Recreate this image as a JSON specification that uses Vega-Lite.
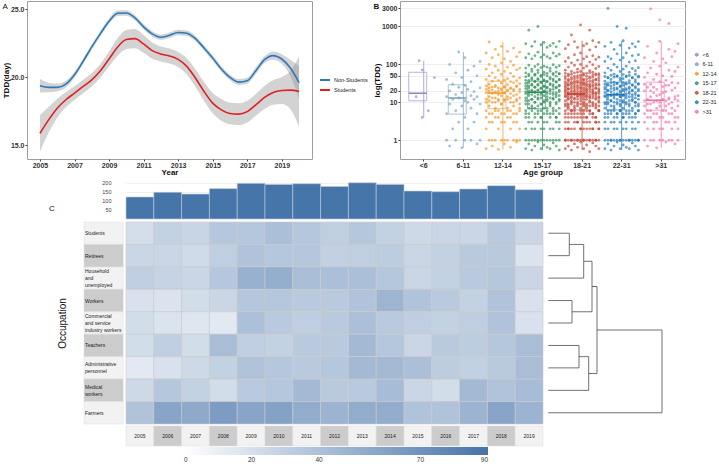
{
  "$schema": "https://vega.github.io/schema/vega-lite/v6.json",
  "padding": {"left": 1, "top": 0, "right": 0, "bottom": 0},
  "config": {
    "font": "Liberation Sans",
    "view": {"stroke": null},
    "axis": {"labelColor": "#333", "titleColor": "#111", "tickColor": "#444", "domain": false, "grid": false},
    "title": {"fontWeight": "normal", "color": "#111"},
    "legend": {"labelColor": "#222"}
  },
  "datasets": {
    "tdd": [
      {"g":"Non-Students","x":2005,"y":19.36,"lo":18.86,"hi":19.86},
      {"g":"Non-Students","x":2005.5,"y":19.24,"lo":18.89,"hi":19.59},
      {"g":"Non-Students","x":2006,"y":19.24,"lo":18.96,"hi":19.52},
      {"g":"Non-Students","x":2006.5,"y":19.48,"lo":19.23,"hi":19.73},
      {"g":"Non-Students","x":2007,"y":20.17,"lo":19.95,"hi":20.39},
      {"g":"Non-Students","x":2007.5,"y":21.16,"lo":20.96,"hi":21.36},
      {"g":"Non-Students","x":2008,"y":22.22,"lo":22.02,"hi":22.42},
      {"g":"Non-Students","x":2008.5,"y":23.2,"lo":23.0,"hi":23.4},
      {"g":"Non-Students","x":2009,"y":24.11,"lo":23.91,"hi":24.31},
      {"g":"Non-Students","x":2009.5,"y":24.7,"lo":24.5,"hi":24.9},
      {"g":"Non-Students","x":2010,"y":24.72,"lo":24.52,"hi":24.92},
      {"g":"Non-Students","x":2010.5,"y":24.36,"lo":24.16,"hi":24.56},
      {"g":"Non-Students","x":2011,"y":23.7,"lo":23.5,"hi":23.9},
      {"g":"Non-Students","x":2011.5,"y":23.18,"lo":22.98,"hi":23.38},
      {"g":"Non-Students","x":2012,"y":22.93,"lo":22.73,"hi":23.13},
      {"g":"Non-Students","x":2012.5,"y":23.08,"lo":22.88,"hi":23.28},
      {"g":"Non-Students","x":2013,"y":23.28,"lo":23.08,"hi":23.48},
      {"g":"Non-Students","x":2013.5,"y":23.23,"lo":23.03,"hi":23.43},
      {"g":"Non-Students","x":2014,"y":22.83,"lo":22.63,"hi":23.03},
      {"g":"Non-Students","x":2014.5,"y":22.14,"lo":21.94,"hi":22.34},
      {"g":"Non-Students","x":2015,"y":21.4,"lo":21.2,"hi":21.6},
      {"g":"Non-Students","x":2015.5,"y":20.6,"lo":20.4,"hi":20.8},
      {"g":"Non-Students","x":2016,"y":19.98,"lo":19.78,"hi":20.18},
      {"g":"Non-Students","x":2016.5,"y":19.63,"lo":19.41,"hi":19.85},
      {"g":"Non-Students","x":2017,"y":19.73,"lo":19.51,"hi":19.95},
      {"g":"Non-Students","x":2017.5,"y":20.47,"lo":20.22,"hi":20.72},
      {"g":"Non-Students","x":2018,"y":21.28,"lo":21.03,"hi":21.53},
      {"g":"Non-Students","x":2018.5,"y":21.58,"lo":21.28,"hi":21.88},
      {"g":"Non-Students","x":2019,"y":21.33,"lo":20.98,"hi":21.68},
      {"g":"Non-Students","x":2019.5,"y":20.67,"lo":20.07,"hi":21.27},
      {"g":"Non-Students","x":2020,"y":19.6,"lo":18.4,"hi":20.8},
      {"g":"Students","x":2005,"y":15.86,"lo":14.51,"hi":17.21},
      {"g":"Students","x":2005.5,"y":16.85,"lo":15.9,"hi":17.8},
      {"g":"Students","x":2006,"y":17.71,"lo":17.01,"hi":18.41},
      {"g":"Students","x":2006.5,"y":18.33,"lo":17.78,"hi":18.88},
      {"g":"Students","x":2007,"y":18.82,"lo":18.32,"hi":19.32},
      {"g":"Students","x":2007.5,"y":19.31,"lo":18.81,"hi":19.81},
      {"g":"Students","x":2008,"y":19.8,"lo":19.3,"hi":20.3},
      {"g":"Students","x":2008.5,"y":20.47,"lo":19.97,"hi":20.97},
      {"g":"Students","x":2009,"y":21.33,"lo":20.78,"hi":21.88},
      {"g":"Students","x":2009.5,"y":22.22,"lo":21.57,"hi":22.87},
      {"g":"Students","x":2010,"y":22.76,"lo":22.06,"hi":23.46},
      {"g":"Students","x":2010.5,"y":22.83,"lo":22.13,"hi":23.53},
      {"g":"Students","x":2011,"y":22.44,"lo":21.79,"hi":23.09},
      {"g":"Students","x":2011.5,"y":21.95,"lo":21.35,"hi":22.55},
      {"g":"Students","x":2012,"y":21.7,"lo":21.15,"hi":22.25},
      {"g":"Students","x":2012.5,"y":21.55,"lo":21.0,"hi":22.1},
      {"g":"Students","x":2013,"y":21.3,"lo":20.75,"hi":21.85},
      {"g":"Students","x":2013.5,"y":20.79,"lo":20.19,"hi":21.39},
      {"g":"Students","x":2014,"y":19.93,"lo":19.28,"hi":20.58},
      {"g":"Students","x":2014.5,"y":18.94,"lo":18.24,"hi":19.64},
      {"g":"Students","x":2015,"y":18.08,"lo":17.33,"hi":18.83},
      {"g":"Students","x":2015.5,"y":17.59,"lo":16.79,"hi":18.39},
      {"g":"Students","x":2016,"y":17.32,"lo":16.52,"hi":18.12},
      {"g":"Students","x":2016.5,"y":17.27,"lo":16.47,"hi":18.07},
      {"g":"Students","x":2017,"y":17.46,"lo":16.66,"hi":18.26},
      {"g":"Students","x":2017.5,"y":17.96,"lo":17.16,"hi":18.76},
      {"g":"Students","x":2018,"y":18.5,"lo":17.65,"hi":19.35},
      {"g":"Students","x":2018.5,"y":18.87,"lo":17.97,"hi":19.77},
      {"g":"Students","x":2019,"y":19.01,"lo":18.01,"hi":20.01},
      {"g":"Students","x":2019.5,"y":19.04,"lo":17.64,"hi":20.44},
      {"g":"Students","x":2020,"y":18.94,"lo":16.34,"hi":21.54}
    ],
    "pts": [
      {"g":"<6","k":3,"v":[14]},{"g":"<6","k":4,"v":[125]},{"g":"<6","k":5,"v":[72,4]},{"g":"<6","k":7,"v":[6]},{"g":"<6","k":9,"v":[45]},
      {"g":"6-11","k":0,"v":[1,5,14,40]},{"g":"6-11","k":1,"v":[0.7,9,20,100]},{"g":"6-11","k":2,"v":[2,12,30]},{"g":"6-11","k":3,"v":[1,6,16,60]},
      {"g":"6-11","k":4,"v":[3,13,25,212]},{"g":"6-11","k":5,"v":[0.63,8,18,45]},{"g":"6-11","k":6,"v":[1,4,11,28,150]},{"g":"6-11","k":7,"v":[2,10,22,70]},
      {"g":"6-11","k":8,"v":[1,7,15,35]},{"g":"6-11","k":9,"v":[3,12,19,90]},{"g":"6-11","k":10,"v":[0.8,5,14,50]},{"g":"6-11","k":11,"v":[1,9,24,120]},
      {"g":"12-14","k":0,"v":[0.6,2,6,12,18,27,40,75,200,4,10,22]},{"g":"12-14","k":1,"v":[1,3,8,14,20,30,50,100,389,5,11,24]},
      {"g":"12-14","k":2,"v":[0.7,1,5,10,17,25,36,60,150,3,13,21]},{"g":"12-14","k":3,"v":[1,4,7,13,19,28,45,90,250,6,10,26]},
      {"g":"12-14","k":4,"v":[0.57,2,6,11,16,24,38,70,180,4,12,20]},{"g":"12-14","k":5,"v":[1,3,9,15,21,32,55,110,300,5,9,23]},
      {"g":"12-14","k":6,"v":[0.8,1,5,12,18,26,39,65,140,3,11,25]},{"g":"12-14","k":7,"v":[1,4,7,14,20,29,42,85,220,6,12,21]},
      {"g":"12-14","k":8,"v":[0.65,2,6,10,17,23,35,58,120,4,13,24]},{"g":"12-14","k":9,"v":[1,3,8,15,22,33,48,95,270,5,10,20]},
      {"g":"12-14","k":10,"v":[0.9,1,5,11,16,27,37,72,160,3,12,26]},{"g":"12-14","k":11,"v":[1,2,7,13,19,31,44,80,210,6,9,22]},
      {"g":"15-17","k":0,"v":[0.6,1,2,4,6,9,13,17,23,32,47,80,150,350,5,11,19,27,38,60]},
      {"g":"15-17","k":1,"v":[0.8,1,3,5,7,11,15,20,27,38,55,95,190,800,4,9,17,24,33,50]},
      {"g":"15-17","k":2,"v":[0.55,1,2,3,6,8,12,16,21,30,44,75,140,300,7,12,20,28,40,65]},
      {"g":"15-17","k":3,"v":[0.7,1,2,4,7,10,14,19,25,36,52,88,170,400,5,10,18,25,35,55]},
      {"g":"15-17","k":4,"v":[0.9,1,3,5,8,12,16,21,28,40,60,100,210,1000,6,13,21,30,42,70]},
      {"g":"15-17","k":5,"v":[0.6,1,2,4,6,9,13,18,24,33,48,82,155,330,4,9,16,23,34,52]},
      {"g":"15-17","k":6,"v":[0.75,1,2,3,7,10,15,20,26,37,54,90,180,380,5,11,19,27,39,62]},
      {"g":"15-17","k":7,"v":[0.65,1,3,5,6,11,14,19,25,35,50,85,160,280,7,12,17,24,36,58]},
      {"g":"15-17","k":8,"v":[0.6,1,2,4,8,9,13,17,22,31,45,78,145,310,5,10,20,29,41,66]},
      {"g":"15-17","k":9,"v":[0.85,1,2,5,7,12,16,22,29,41,58,98,200,360,6,13,18,26,37,54]},
      {"g":"15-17","k":10,"v":[0.7,1,3,4,6,10,14,18,24,34,49,84,165,290,4,9,16,25,35,63]},
      {"g":"15-17","k":11,"v":[0.55,1,2,3,7,11,15,21,27,39,56,92,185,405,5,12,19,28,40,57]},
      {"g":"18-21","k":0,"v":[0.6,1,1,2,3,4,6,8,11,14,17,21,27,35,48,70,120,260,5,9,15,19,24,31,42,58]},
      {"g":"18-21","k":1,"v":[0.7,1,2,2,3,5,7,9,12,15,18,23,30,40,55,85,150,330,4,8,13,17,22,28,37,50]},
      {"g":"18-21","k":2,"v":[0.55,1,1,2,4,5,6,9,11,13,16,20,26,33,45,65,110,600,6,10,14,18,23,30,40,55]},
      {"g":"18-21","k":3,"v":[0.8,1,2,3,4,6,7,10,13,16,19,24,31,42,60,95,180,400,5,8,12,17,21,27,36,48]},
      {"g":"18-21","k":4,"v":[0.65,1,1,3,3,5,8,10,12,15,17,22,28,37,50,75,130,280,4,9,14,19,25,33,44,62]},
      {"g":"18-21","k":5,"v":[0.9,1,2,2,4,5,7,9,13,16,20,25,33,45,65,100,200,1100,6,11,15,18,23,29,39,52]},
      {"g":"18-21","k":6,"v":[0.6,1,1,2,3,4,6,8,10,14,18,21,29,38,52,80,140,310,5,9,12,16,24,32,41,57]},
      {"g":"18-21","k":7,"v":[0.75,1,2,3,4,6,7,9,12,15,19,23,30,41,58,90,160,350,4,8,14,17,21,27,35,49]},
      {"g":"18-21","k":8,"v":[0.5,1,1,2,3,5,6,8,11,14,16,22,27,36,47,68,115,240,800,6,10,13,19,25,30,43,60]},
      {"g":"18-21","k":9,"v":[0.85,1,2,2,4,5,8,10,13,17,20,26,34,46,62,98,170,420,5,9,15,18,22,29,38,53]},
      {"g":"18-21","k":10,"v":[0.7,1,1,3,3,4,7,9,12,15,18,23,28,39,53,78,135,290,4,8,13,17,24,31,40,56]},
      {"g":"18-21","k":11,"v":[0.6,1,2,2,3,6,6,8,11,13,17,21,31,43,57,88,155,380,6,10,14,19,23,28,37,51]},
      {"g":"22-31","k":0,"v":[0.6,1,2,3,5,7,10,14,18,25,36,60,120,300,4,9,15,22,30,48]},
      {"g":"22-31","k":1,"v":[0.8,1,2,4,6,9,12,16,21,30,45,80,160,3000,5,10,14,20,28,44]},
      {"g":"22-31","k":2,"v":[0.55,1,1,3,5,8,11,15,19,27,40,70,140,380,6,11,16,23,33,52]},
      {"g":"22-31","k":3,"v":[0.7,1,2,3,6,7,10,13,17,24,34,55,100,250,4,8,15,21,29,46]},
      {"g":"22-31","k":4,"v":[0.9,1,2,4,5,9,12,16,22,32,48,85,190,1000,5,10,17,24,31,50]},
      {"g":"22-31","k":5,"v":[0.6,1,1,3,6,8,11,14,18,26,38,65,130,320,6,9,14,20,27,43]},
      {"g":"22-31","k":6,"v":[0.75,1,2,4,5,7,10,15,20,28,42,75,150,420,4,11,16,22,33,54]},
      {"g":"22-31","k":7,"v":[0.65,1,2,3,6,9,13,17,23,33,50,90,200,900,5,10,15,21,30,47]},
      {"g":"22-31","k":8,"v":[0.6,1,1,4,5,8,11,14,19,25,37,62,115,270,6,9,17,23,32,51]},
      {"g":"22-31","k":9,"v":[0.85,1,2,3,6,7,12,16,21,29,44,78,170,350,4,11,14,20,28,45]},
      {"g":"22-31","k":10,"v":[0.7,1,2,4,5,8,10,13,18,26,39,68,125,290,5,10,16,24,34,55]},
      {"g":"22-31","k":11,"v":[0.55,1,1,3,6,9,12,15,20,31,46,82,180,400,6,8,15,22,30,49]},
      {"g":">31","k":0,"v":[1,3,8,11,20,45,150,5,30]},{"g":">31","k":1,"v":[0.7,2,6,12,25,60,300,4,9]},{"g":">31","k":2,"v":[1,4,9,14,30,80,2900,6,20]},
      {"g":">31","k":3,"v":[1,2,5,10,18,40,120,3,25]},{"g":">31","k":4,"v":[0.63,3,7,11,22,55,200,5,15]},{"g":">31","k":5,"v":[1,4,10,16,35,90,405,1500,2,8]},
      {"g":">31","k":6,"v":[1,2,6,12,26,50,140,4,18]},{"g":">31","k":7,"v":[0.9,3,8,11,19,38,110,6,28]},{"g":">31","k":8,"v":[1,5,9,13,28,70,250,1200,3,12]},
      {"g":">31","k":9,"v":[1,2,7,10,21,48,160,5,33]},{"g":">31","k":10,"v":[0.8,3,6,12,24,65,220,4,14]},{"g":">31","k":11,"v":[1,4,8,15,32,85,350,2,11]}
    ],
    "box": [
      {"age":"<6","lo":4,"q1":11,"med":17.3,"q3":62,"hi":125},
      {"age":"6-11","lo":0.63,"q1":4.9,"med":13,"q3":29,"hi":212},
      {"age":"12-14","lo":0.57,"q1":6.8,"med":17.6,"q3":36,"hi":389},
      {"age":"15-17","lo":0.55,"q1":6.8,"med":18.4,"q3":36,"hi":405},
      {"age":"18-21","lo":0.55,"q1":6.3,"med":16.6,"q3":34,"hi":420},
      {"age":"22-31","lo":0.55,"q1":6.3,"med":15.9,"q3":34,"hi":420},
      {"age":">31","lo":0.63,"q1":6.2,"med":11.3,"q3":34,"hi":405}
    ],
    "bars": [
      {"year":2005,"n":121},{"year":2006,"n":147},{"year":2007,"n":137},{"year":2008,"n":167},{"year":2009,"n":196},
      {"year":2010,"n":190},{"year":2011,"n":194},{"year":2012,"n":179},{"year":2013,"n":199},{"year":2014,"n":190},
      {"year":2015,"n":154},{"year":2016,"n":150},{"year":2017,"n":165},{"year":2018,"n":183},{"year":2019,"n":161}
    ],
    "heat": [
      {"occ":"Students","year":[2005,2006,2007,2008,2009,2010,2011,2012,2013,2014,2015,2016,2017,2018,2019],"val":[21,29,27,36,36,41,36,31,36,29,24,26,26,34,26]},
      {"occ":"Retirees","year":[2005,2006,2007,2008,2009,2010,2011,2012,2013,2014,2015,2016,2017,2018,2019],"val":[26,26,23,31,38,36,36,30,31,32,26,29,34,34,18]},
      {"occ":"Household","year":[2005,2006,2007,2008,2009,2010,2011,2012,2013,2014,2015,2016,2017,2018,2019],"val":[31,28,26,36,50,52,42,41,41,36,26,29,34,36,26]},
      {"occ":"Workers","year":[2005,2006,2007,2008,2009,2010,2011,2012,2013,2014,2015,2016,2017,2018,2019],"val":[19,18,22,26,36,36,34,34,38,47,38,34,29,38,19]},
      {"occ":"Commercial","year":[2005,2006,2007,2008,2009,2010,2011,2012,2013,2014,2015,2016,2017,2018,2019],"val":[22,18,16,14,40,34,31,34,41,34,31,29,31,38,19]},
      {"occ":"Teachers","year":[2005,2006,2007,2008,2009,2010,2011,2012,2013,2014,2015,2016,2017,2018,2019],"val":[22,31,22,42,31,29,34,34,45,36,26,34,32,36,42]},
      {"occ":"Administrative","year":[2005,2006,2007,2008,2009,2010,2011,2012,2013,2014,2015,2016,2017,2018,2019],"val":[14,19,24,29,38,36,34,36,45,45,41,32,30,34,42]},
      {"occ":"Medical","year":[2005,2006,2007,2008,2009,2010,2011,2012,2013,2014,2015,2016,2017,2018,2019],"val":[24,36,29,22,34,36,45,34,34,43,26,22,45,38,43]},
      {"occ":"Farmers","year":[2005,2006,2007,2008,2009,2010,2011,2012,2013,2014,2015,2016,2017,2018,2019],"val":[38,58,55,63,58,60,53,48,53,53,38,38,48,58,48]}
    ],
    "occs": [
      {"occ":"Students","label":"Students","lines":1},
      {"occ":"Retirees","label":"Retirees","lines":1},
      {"occ":"Household","label":"Household\nand\nunemployed","lines":3},
      {"occ":"Workers","label":"Workers","lines":1},
      {"occ":"Commercial","label":"Commercial\nand service\nindustry workers","lines":3},
      {"occ":"Teachers","label":"Teachers","lines":1},
      {"occ":"Administrative","label":"Administrative\npersonnel","lines":2},
      {"occ":"Medical","label":"Medical\nworkers","lines":2},
      {"occ":"Farmers","label":"Farmers","lines":1}
    ],
    "dend": [
      {"h1":0,"h2":21,"r1":0,"r2":0},{"h1":0,"h2":21,"r1":1,"r2":1},{"h1":0,"h2":35.4,"r1":2,"r2":2},
      {"h1":21,"h2":35.4,"r1":0.5,"r2":0.5},{"h1":0,"h2":23.7,"r1":3,"r2":3},{"h1":0,"h2":23.7,"r1":4,"r2":4},
      {"h1":35.4,"h2":43.7,"r1":1.25,"r2":1.25},{"h1":23.7,"h2":43.7,"r1":3.5,"r2":3.5},
      {"h1":0,"h2":30.7,"r1":5,"r2":5},{"h1":0,"h2":30.7,"r1":6,"r2":6},{"h1":30.7,"h2":40.4,"r1":5.5,"r2":5.5},
      {"h1":0,"h2":40.4,"r1":7,"r2":7},{"h1":43.7,"h2":48.7,"r1":2.375,"r2":2.375},{"h1":40.4,"h2":48.7,"r1":6.25,"r2":6.25},
      {"h1":48.7,"h2":113.7,"r1":4.3125,"r2":4.3125},{"h1":0,"h2":113.7,"r1":8,"r2":8},
      {"h1":21,"h2":21,"r1":0,"r2":1},{"h1":35.4,"h2":35.4,"r1":0.5,"r2":2},{"h1":23.7,"h2":23.7,"r1":3,"r2":4},
      {"h1":43.7,"h2":43.7,"r1":1.25,"r2":3.5},{"h1":30.7,"h2":30.7,"r1":5,"r2":6},{"h1":40.4,"h2":40.4,"r1":5.5,"r2":7},
      {"h1":48.7,"h2":48.7,"r1":2.375,"r2":6.25},{"h1":113.7,"h2":113.7,"r1":4.3125,"r2":8}
    ],
    "years": [
      {"year":2005},{"year":2006},{"year":2007},{"year":2008},{"year":2009},{"year":2010},{"year":2011},{"year":2012},
      {"year":2013},{"year":2014},{"year":2015},{"year":2016},{"year":2017},{"year":2018},{"year":2019}
    ],
    "blank": [{}]
  },
  "spacing": 0,
  "bounds": "full",
  "resolve": {
    "scale": {"x": "independent", "y": "independent", "color": "independent", "fill": "independent", "stroke": "independent", "xOffset": "independent"},
    "legend": {"color": "independent", "fill": "independent", "stroke": "independent"}
  },
  "vconcat": [
    {
      "spacing": 0,
      "bounds": "flush",
      "resolve": {
        "scale": {"x": "independent", "y": "independent", "color": "independent", "fill": "independent", "stroke": "independent", "xOffset": "independent"},
        "legend": {"color": "independent", "fill": "independent", "stroke": "independent"}
      },
      "hconcat": [
        {
          "width": 285, "height": 158,
          "view": {"stroke": "#9e9e9e"},
          "title": {"text": "A", "anchor": "start", "frame": "bounds", "fontSize": 8, "offset": -10},
          "data": {"name": "tdd"},
          "layer": [
            {
              "mark": {"type": "area", "interpolate": "monotone", "color": "#8c8c8c", "opacity": 0.38},
              "encoding": {
                "x": {"field": "x", "type": "quantitative", "scale": {"domain": [2004.25, 2020.75], "nice": false, "zero": false},
                      "axis": {"values": [2005,2007,2009,2011,2013,2015,2017,2019], "format": "d", "labelFontSize": 7, "labelFontWeight": "bold", "title": "Year", "titleFontSize": 8, "titleFontWeight": "bold", "tickSize": 2, "labelPadding": 0, "titlePadding": 0}},
                "y": {"field": "lo", "type": "quantitative", "scale": {"domain": [13.97, 25.6], "nice": false, "zero": false},
                      "axis": {"values": [15, 17.5, 20, 22.5, 25], "format": ".1f", "labelFontSize": 7, "labelFontWeight": "bold", "title": "TDD(day)", "titleFontSize": 8, "titleFontWeight": "bold", "tickSize": 2, "labelPadding": 1, "titlePadding": 0}},
                "y2": {"field": "hi"},
                "detail": {"field": "g", "type": "nominal"}
              }
            },
            {
              "mark": {"type": "line", "interpolate": "monotone", "strokeWidth": 1.6},
              "encoding": {
                "x": {"field": "x", "type": "quantitative"},
                "y": {"field": "y", "type": "quantitative"},
                "color": {"field": "g", "type": "nominal", "scale": {"domain": ["Non-Students", "Students"], "range": ["#2b7bba", "#e0201e"]},
                          "legend": {"orient": "none", "legendX": 292, "legendY": 73, "title": null, "symbolType": "stroke", "symbolStrokeWidth": 2, "symbolSize": 100, "labelFontSize": 5.5, "labelOffset": 3, "rowPadding": 0}}
              }
            }
          ]
        },
        {"width": 88, "height": 178, "data": {"name": "blank"}, "mark": {"type": "text", "text": ""}, "encoding": {}},
        {
          "width": 285, "height": 158,
          "view": {"stroke": "#9e9e9e"},
          "title": {"text": "B", "anchor": "start", "frame": "bounds", "fontSize": 8, "fontWeight": "bold", "offset": -10},
          "layer": [
            {
              "data": {"name": "pts"},
              "transform": [{"flatten": ["v"]}],
              "mark": {"type": "circle", "size": 8, "opacity": 0.65},
              "encoding": {
                "x": {"field": "g", "type": "nominal", "scale": {"domain": ["<6","6-11","12-14","15-17","18-21","22-31",">31"], "paddingInner": 0, "paddingOuter": 0.1},
                      "axis": {"labelFontSize": 7, "labelFontWeight": "bold", "labelAngle": 0, "title": "Age group", "titleFontSize": 8, "titleFontWeight": "bold", "tickSize": 2, "labelPadding": 0, "titlePadding": 0}},
                "xOffset": {"field": "k", "type": "nominal", "scale": {"paddingInner": 0, "paddingOuter": 1.5}},
                "y": {"field": "v", "type": "quantitative", "scale": {"type": "log", "domain": [0.32, 4700], "nice": false},
                      "axis": {"values": [1, 10, 20, 50, 100, 1000, 3000], "format": "d", "labelFontSize": 7, "labelFontWeight": "bold", "title": "log(TDD)", "titleFontSize": 8, "titleFontWeight": "bold", "tickSize": 2, "labelPadding": 1, "titlePadding": 0, "grid": true, "gridColor": "#ebebeb", "gridWidth": 0.8}},
                "fill": {"field": "g", "type": "nominal", "scale": {"domain": [">31","22-31","18-21","15-17","12-14","6-11","<6"], "range": ["#f26ca7","#1673b9","#c03b2b","#2a8c55","#ef9321","#72a0c1","#8f84c6"]}, "legend": null}
              }
            },
            {
              "data": {"name": "box"},
              "mark": {"type": "rule", "strokeWidth": 0.8, "opacity": 0.9},
              "encoding": {
                "x": {"field": "age", "type": "nominal"},
                "y": {"field": "lo", "type": "quantitative"},
                "y2": {"field": "hi"},
                "stroke": {"field": "age", "type": "nominal", "scale": {"domain": ["<6","6-11","12-14","15-17","18-21","22-31",">31"], "range": ["#8f84c6","#72a0c1","#ef9321","#2a8c55","#c03b2b","#1673b9","#f26ca7"]},
                           "legend": {"orient": "none", "legendX": 294, "legendY": 51, "title": null, "symbolType": "M-0.7,-0.45H0.7V0.45H-0.7Z M-0.7,0H0.7 M0,-0.45V-1 M0,0.45V1", "symbolSize": 16, "symbolStrokeWidth": 1, "labelFontSize": 5.5, "labelOffset": 3, "rowPadding": 0.5,
                                      "encode": {"symbols": {"update": {"fill": {"value": "transparent"}, "opacity": {"value": 0.8}}}}}}
              }
            },
            {
              "data": {"name": "box"},
              "mark": {"type": "bar", "filled": false, "strokeWidth": 1, "opacity": 0.6, "width": {"band": 0.76}},
              "encoding": {
                "x": {"field": "age", "type": "nominal"},
                "y": {"field": "q1", "type": "quantitative"},
                "y2": {"field": "q3"},
                "stroke": {"field": "age", "type": "nominal"}
              }
            },
            {
              "data": {"name": "box"},
              "mark": {"type": "bar", "filled": false, "strokeWidth": 1.4, "width": {"band": 0.76}},
              "encoding": {
                "x": {"field": "age", "type": "nominal"},
                "y": {"field": "med", "type": "quantitative"},
                "y2": {"field": "med"},
                "stroke": {"field": "age", "type": "nominal"}
              }
            }
          ]
        }
      ]
    },
    {
      "spacing": 0,
      "bounds": "flush",
      "resolve": {"scale": {"x": "independent", "y": "independent"}},
      "hconcat": [
        {"width": 99, "height": 42, "data": {"name": "blank"}, "mark": {"type": "text", "text": ""}, "encoding": {},
         "title": {"text": "C", "orient": "bottom", "anchor": "start", "fontSize": 8, "offset": -16, "dx": 22}},
        {
          "width": 417, "height": 40,
          "data": {"name": "bars"},
          "mark": {"type": "bar", "fill": "#4575a9", "stroke": "#c3cad6", "strokeWidth": 0.6},
          "encoding": {
            "x": {"field": "year", "type": "ordinal", "scale": {"paddingInner": 0, "paddingOuter": 0}, "axis": null},
            "y": {"field": "n", "type": "quantitative", "scale": {"domain": [0, 220], "nice": false},
                  "axis": {"values": [50, 100, 150, 200], "title": null, "labelFontSize": 5.5, "labelColor": "#444", "ticks": false, "labelPadding": 15, "grid": true, "gridColor": "#f0f0f0"}}
          }
        }
      ]
    },
    {
      "spacing": 0,
      "bounds": "flush",
      "resolve": {
        "scale": {"x": "independent", "y": "independent", "color": "independent", "fill": "independent"},
        "legend": {"color": "independent", "fill": "independent"}
      },
      "hconcat": [
        {"width": 57, "height": 203, "data": {"name": "blank"}, "mark": {"type": "text", "text": ""}, "encoding": {}},
        {
          "width": 42, "height": 202,
          "data": {"name": "occs"},
          "layer": [
            {
              "mark": {"type": "rect", "stroke": "#dddddd", "strokeWidth": 0.5},
              "encoding": {
                "y": {"field": "occ", "type": "nominal", "sort": ["Students","Retirees","Household","Workers","Commercial","Teachers","Administrative","Medical","Farmers"], "scale": {"paddingInner": 0, "paddingOuter": 0},
                      "axis": {"labels": false, "ticks": false, "domain": false, "title": "Occupation", "titleFontSize": 10, "titleFontWeight": "normal", "titleColor": "#111", "minExtent": 0, "maxExtent": 0, "titlePadding": 17}},
                "x": {"datum": 0, "type": "quantitative", "scale": {"domain": [0, 42]}, "axis": null},
                "x2": {"datum": 42},
                "fill": {"field": "occ", "type": "nominal", "scale": {"domain": ["Students","Retirees","Household","Workers","Commercial","Teachers","Administrative","Medical","Farmers"], "range": ["#f2f2f2","#cccccc","#f2f2f2","#cccccc","#f2f2f2","#cccccc","#f2f2f2","#cccccc","#f2f2f2"]}, "legend": null}
              }
            },
            {
              "transform": [{"filter": "datum.lines == 1"}],
              "mark": {"type": "text", "align": "left", "fontSize": 5, "lineBreak": "\n", "lineHeight": 7, "color": "#222", "dx": 1},
              "encoding": {
                "y": {"field": "occ", "type": "nominal", "sort": ["Students","Retirees","Household","Workers","Commercial","Teachers","Administrative","Medical","Farmers"]},
                "x": {"datum": 0, "type": "quantitative"},
                "text": {"field": "label"}
              }
            },
            {
              "transform": [{"filter": "datum.lines == 2"}],
              "mark": {"type": "text", "align": "left", "fontSize": 5, "lineBreak": "\n", "lineHeight": 7, "color": "#222", "dx": 1, "dy": -3.5},
              "encoding": {
                "y": {"field": "occ", "type": "nominal", "sort": ["Students","Retirees","Household","Workers","Commercial","Teachers","Administrative","Medical","Farmers"]},
                "x": {"datum": 0, "type": "quantitative"},
                "text": {"field": "label"}
              }
            },
            {
              "transform": [{"filter": "datum.lines == 3"}],
              "mark": {"type": "text", "align": "left", "fontSize": 5, "lineBreak": "\n", "lineHeight": 7, "color": "#222", "dx": 1, "dy": -7},
              "encoding": {
                "y": {"field": "occ", "type": "nominal", "sort": ["Students","Retirees","Household","Workers","Commercial","Teachers","Administrative","Medical","Farmers"]},
                "x": {"datum": 0, "type": "quantitative"},
                "text": {"field": "label"}
              }
            }
          ]
        },
        {
          "width": 417, "height": 202,
          "data": {"name": "heat"},
          "transform": [{"flatten": ["year", "val"]}],
          "mark": {"type": "rect", "stroke": "#c9c9c9", "strokeWidth": 0.6},
          "encoding": {
            "x": {"field": "year", "type": "ordinal", "scale": {"paddingInner": 0, "paddingOuter": 0}, "axis": null},
            "y": {"field": "occ", "type": "nominal", "sort": ["Students","Retirees","Household","Workers","Commercial","Teachers","Administrative","Medical","Farmers"], "scale": {"paddingInner": 0, "paddingOuter": 0}, "axis": null},
            "color": {"field": "val", "type": "quantitative", "scale": {"domain": [0, 90], "range": ["#ffffff", "#4672a9"], "interpolate": "rgb"}, "legend": null}
          }
        },
        {
          "width": 121, "height": 202,
          "data": {"name": "dend"},
          "mark": {"type": "rule", "color": "#4d4d4d", "strokeWidth": 0.8},
          "encoding": {
            "x": {"field": "h1", "type": "quantitative", "scale": {"domain": [-5.3, 115.7], "nice": false, "zero": false}, "axis": null},
            "x2": {"field": "h2"},
            "y": {"field": "r1", "type": "quantitative", "scale": {"domain": [-0.5, 8.5], "reverse": true, "nice": false, "zero": false}, "axis": null},
            "y2": {"field": "r2"}
          }
        }
      ]
    },
    {
      "spacing": 0,
      "bounds": "flush",
      "resolve": {"scale": {"x": "independent", "y": "independent"}},
      "hconcat": [
        {"width": 99, "height": 20, "data": {"name": "blank"}, "mark": {"type": "text", "text": ""}, "encoding": {}},
        {
          "width": 417, "height": 20,
          "resolve": {"scale": {"color": "independent", "fill": "independent"}},
          "layer": [
            {
              "data": {"name": "years"},
              "mark": {"type": "rect", "stroke": "#dddddd", "strokeWidth": 0.5},
              "encoding": {
                "x": {"field": "year", "type": "ordinal", "scale": {"paddingInner": 0, "paddingOuter": 0}, "axis": null},
                "y": {"datum": 0, "type": "quantitative", "scale": {"domain": [0, 1]}, "axis": null},
                "y2": {"datum": 1},
                "fill": {"field": "year", "type": "ordinal", "scale": {"domain": [2005,2006,2007,2008,2009,2010,2011,2012,2013,2014,2015,2016,2017,2018,2019], "range": ["#f2f2f2","#cccccc","#f2f2f2","#cccccc","#f2f2f2","#cccccc","#f2f2f2","#cccccc","#f2f2f2","#cccccc","#f2f2f2","#cccccc","#f2f2f2","#cccccc","#f2f2f2"]}, "legend": null}
              }
            },
            {
              "data": {"name": "years"},
              "mark": {"type": "text", "fontSize": 5, "color": "#222"},
              "encoding": {
                "x": {"field": "year", "type": "ordinal"},
                "y": {"datum": 0.5, "type": "quantitative"},
                "text": {"field": "year", "type": "nominal"}
              }
            },
            {
              "data": {"name": "heat"},
              "transform": [{"flatten": ["year", "val"]}],
              "mark": {"type": "rect", "opacity": 0},
              "encoding": {
                "x": {"field": "year", "type": "ordinal"},
                "y": {"datum": 0, "type": "quantitative"},
                "y2": {"datum": 1},
                "color": {"field": "val", "type": "quantitative", "scale": {"domain": [0, 90], "range": ["#ffffff", "#4672a9"], "interpolate": "rgb"},
                          "legend": {"orient": "none", "legendX": 58, "legendY": 21, "direction": "horizontal", "gradientLength": 304, "gradientThickness": 8, "title": null, "values": [0, 20, 40, 70, 90], "labelFontSize": 6.5, "labelAlign": "center", "gradientStrokeWidth": 0, "labelOffset": 2, "labelColor": "#333"}}
              }
            }
          ]
        }
      ]
    }
  ]
}
